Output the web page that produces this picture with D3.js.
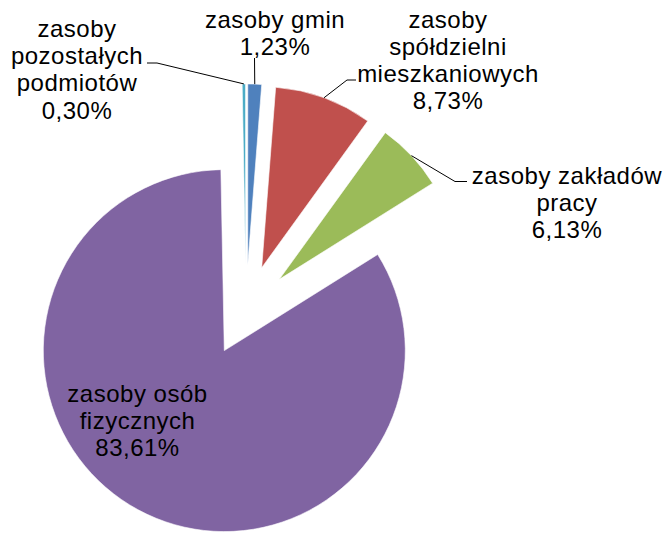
<!DOCTYPE html>
<html>
<head>
<meta charset="utf-8">
<script src="https://cdn.jsdelivr.net/npm/d3@7"></script>
<style>
  html, body { margin: 0; padding: 0; background: #fff; }
  svg { display: block; }
</style>
</head>
<body>
<svg id="chart" width="664" height="533"></svg>
<script>
// ---- data ----
const categories = [
  "zasoby gmin",
  "zasoby spółdzielni mieszkaniowych",
  "zasoby zakładów pracy",
  "zasoby osób fizycznych",
  "zasoby pozostałych podmiotów"
];
const values = [1.23, 8.73, 6.13, 83.61, 0.30];
const valueLabels = ["1,23%", "8,73%", "6,13%", "83,61%", "0,30%"];
const labelLines = [
  ["zasoby gmin"],
  ["zasoby", "spółdzielni", "mieszkaniowych"],
  ["zasoby zakładów", "pracy"],
  ["zasoby osób", "fizycznych"],
  ["zasoby", "pozostałych", "podmiotów"]
];
const colors = ["#4F81BD", "#C0504D", "#9BBB59", "#8064A2", "#4BACC6"];

// ---- layout ----
const cx = 246, cy = 310.5, radius = 181, explode = 45.6;
const fontSize = 24, lineH = 27.2;
// label anchor: center x, first baseline y; leader: elbow points (label side)
const labelLayout = [
  { x: 275, y: 28, leader: [[254.5, 58]] },
  { x: 448, y: 27.5, leader: [[347, 80], [356, 80]] },
  { x: 567, y: 183.5, leader: [[455, 181.5], [467, 181.5]] },
  { x: 137.5, y: 402, leader: null },
  { x: 77, y: 37, leader: [[157, 63], [147, 63]] }
];

const svg = d3.select("#chart");
const g = svg.append("g").attr("transform", `translate(${cx},${cy})`);

const pie = d3.pie().sort(null).value(d => d).startAngle(0).endAngle(2 * Math.PI);
const arcs = pie(values);
const arc = d3.arc().innerRadius(0).outerRadius(radius);

function offset(a) {
  const mid = (a.startAngle + a.endAngle) / 2;
  return [explode * Math.sin(mid), -explode * Math.cos(mid)];
}

g.selectAll("path.slice")
  .data(arcs)
  .enter().append("path")
  .attr("class", "slice")
  .attr("transform", d => { const o = offset(d); return `translate(${o[0]},${o[1]})`; })
  .attr("d", arc)
  .attr("fill", (d, i) => colors[i])
  .attr("stroke", "#fff")
  .attr("stroke-width", 0.6);

// leader lines
const line = d3.line();
arcs.forEach((a, i) => {
  const L = labelLayout[i];
  if (!L.leader) return;
  const o = offset(a);
  const mid = (a.startAngle + a.endAngle) / 2;
  const p0 = [cx + o[0] + radius * Math.sin(mid), cy + o[1] - radius * Math.cos(mid)];
  const pts = [p0].concat(L.leader);
  svg.append("path")
    .attr("d", line(pts))
    .attr("fill", "none")
    .attr("stroke", "#000")
    .attr("stroke-width", 1);
});

// labels
arcs.forEach((a, i) => {
  const L = labelLayout[i];
  const lines = labelLines[i].concat([valueLabels[i]]);
  const t = svg.append("text")
    .attr("x", L.x)
    .attr("y", L.y)
    .attr("text-anchor", "middle")
    .attr("font-family", "Liberation Sans, Arial, sans-serif")
    .attr("font-size", fontSize)
    .attr("letter-spacing", "0.5px")
    .attr("fill", "#000");
  lines.forEach((s, j) => {
    t.append("tspan").attr("x", L.x).attr("y", L.y + j * lineH).text(s);
  });
});
</script>
</body>
</html>
